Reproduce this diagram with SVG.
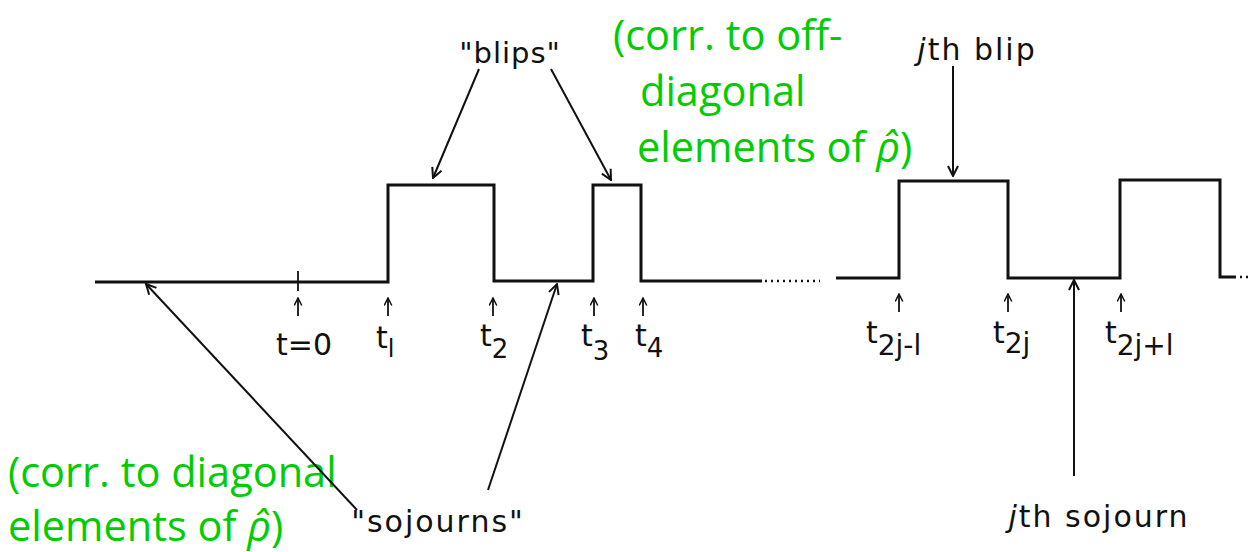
<svg xmlns="http://www.w3.org/2000/svg" width="1251" height="552" viewBox="0 0 1251 552">
<defs>
<style>
.w{fill:none;stroke:#111;stroke-width:3;stroke-linejoin:miter}
.c{fill:none;stroke:#111;stroke-width:2}
.tk{fill:none;stroke:#111;stroke-width:1.8}
.lb{font-family:"DejaVu Sans",sans-serif;fill:#111}
.g{font-family:"Open Sans",sans-serif;fill:#00cc00;font-size:41.5px}
.dots{fill:none;stroke:#111;stroke-width:2.5;stroke-dasharray:2 4}
</style>
<marker id="ah" viewBox="0 0 12 12" refX="11" refY="6" markerWidth="12" markerHeight="12" markerUnits="userSpaceOnUse" orient="auto">
<path d="M1,1 L11,6 L1,11" fill="none" stroke="#111" stroke-width="2"/>
</marker>
<marker id="ahs" viewBox="0 0 12 12" refX="11" refY="6" markerWidth="9" markerHeight="9" markerUnits="userSpaceOnUse" orient="auto">
<path d="M1,1 L11,6 L1,11" fill="none" stroke="#111" stroke-width="2"/>
</marker>
</defs>

<g id="waveform">
<path class="w" d="M95,282 H388 V185 H494 V281 H593 V185 H641 V281 H762"/>
<line class="tk" x1="298" y1="271" x2="298" y2="291"/>
<path class="dots" d="M765,281 H820"/>
<path class="w" d="M836,278 H899 V181 H1008 V278 H1120 V180 H1220 V277 H1236"/>
<path class="dots" d="M1240,277 H1251"/>
</g>

<g id="ticks">
<line class="tk" x1="298" y1="316" x2="298" y2="298" marker-end="url(#ahs)"/>
<line class="tk" x1="388" y1="316" x2="388" y2="298" marker-end="url(#ahs)"/>
<line class="tk" x1="493" y1="316" x2="493" y2="298" marker-end="url(#ahs)"/>
<line class="tk" x1="594" y1="316" x2="594" y2="298" marker-end="url(#ahs)"/>
<line class="tk" x1="643" y1="316" x2="643" y2="298" marker-end="url(#ahs)"/>
<line class="tk" x1="899" y1="312" x2="899" y2="294" marker-end="url(#ahs)"/>
<line class="tk" x1="1008" y1="312" x2="1008" y2="294" marker-end="url(#ahs)"/>
<line class="tk" x1="1121" y1="312" x2="1121" y2="294" marker-end="url(#ahs)"/>
</g>

<g id="tick-labels" class="lb" font-size="30">
<text x="276" y="355">t=0</text>
<text x="376" y="348">t<tspan font-size="24" dy="9">l</tspan></text>
<text x="480" y="346">t<tspan font-size="26" dy="12">2</tspan></text>
<text x="581" y="346">t<tspan font-size="26" dy="14">3</tspan></text>
<text x="635" y="346">t<tspan font-size="26" dy="11">4</tspan></text>
<text x="866" y="343">t<tspan font-size="28" dy="12">2j-l</tspan></text>
<text x="993" y="343">t<tspan font-size="28" dy="10">2j</tspan></text>
<text x="1105" y="343">t<tspan font-size="28" dy="12">2j+l</tspan></text>
</g>

<g id="blips-label"><text class="lb" x="510" y="63" font-size="29" letter-spacing="1" text-anchor="middle">"blips"</text></g>
<g id="sojourns-label"><text class="lb" x="438" y="532" font-size="30" letter-spacing="2" text-anchor="middle">"sojourns"</text></g>
<g id="jth-blip"><text class="lb" x="977" y="60" font-size="30" letter-spacing="2" text-anchor="middle"><tspan font-style="italic">j</tspan>th blip</text></g>
<g id="jth-sojourn"><text class="lb" x="1099" y="527" font-size="30" letter-spacing="2" text-anchor="middle"><tspan font-style="italic">j</tspan>th sojourn</text></g>

<g id="offdiag-note" class="g">
<text x="613" y="50">(corr. to off-</text>
<text x="640" y="106">diagonal</text>
<text x="637" y="162">elements of <tspan font-style="italic">ρ̂</tspan>)</text>
</g>
<g id="diag-note" class="g">
<text x="8" y="487">(corr. to diagonal</text>
<text x="8" y="541">elements of <tspan font-style="italic">ρ̂</tspan>)</text>
</g>

<g id="connectors">
<line class="c" x1="479" y1="69" x2="433" y2="178" marker-end="url(#ah)"/>
<line class="c" x1="551" y1="69" x2="611" y2="180" marker-end="url(#ah)"/>
<line class="c" x1="953" y1="66" x2="953" y2="176" marker-end="url(#ah)"/>
<line class="c" x1="357" y1="510" x2="146" y2="284" marker-end="url(#ah)"/>
<line class="c" x1="488" y1="490" x2="557" y2="284" marker-end="url(#ah)"/>
<line class="c" x1="1074" y1="476" x2="1074" y2="280" marker-end="url(#ah)"/>
</g>
</svg>
